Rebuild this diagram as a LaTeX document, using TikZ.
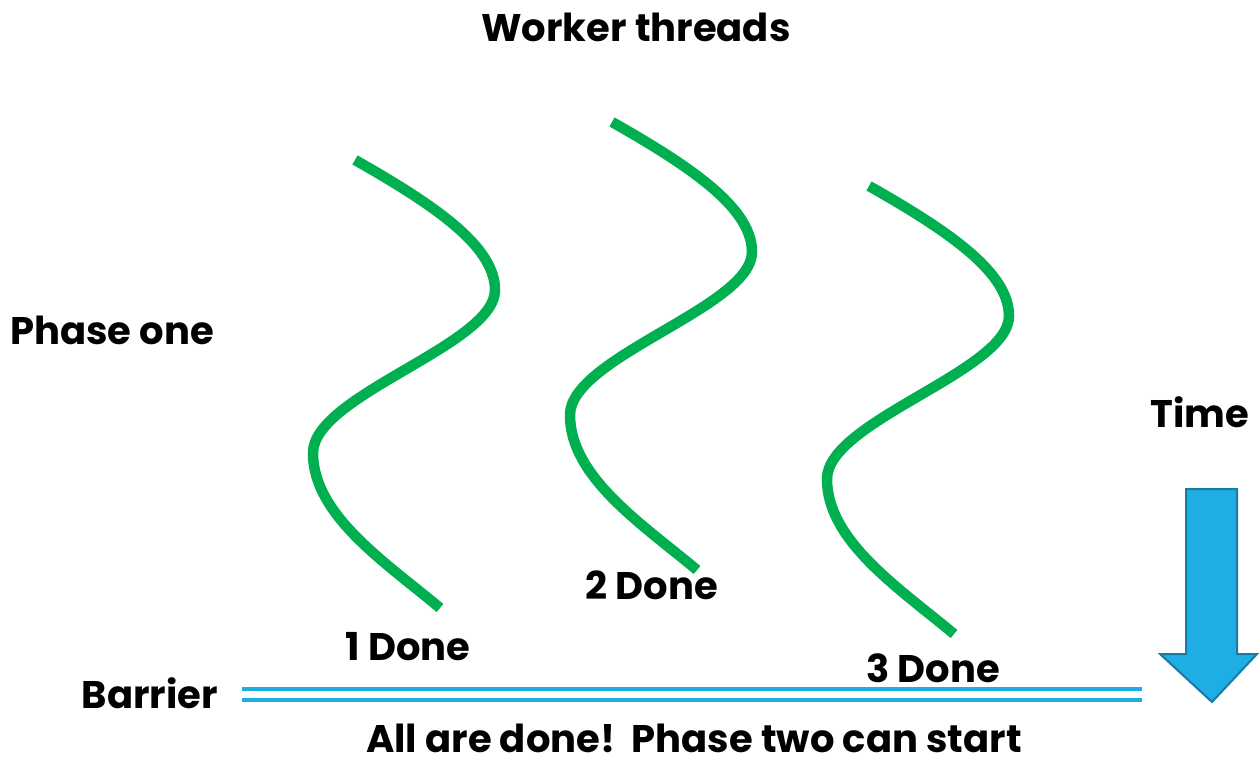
\documentclass[tikz,border=0pt]{standalone}
\usepackage{fontspec}
\setmainfont{Poppins}
\definecolor{thread}{RGB}{0,176,80}
\definecolor{barcol}{RGB}{31,174,227}
\definecolor{arrowedge}{RGB}{24,122,165}
\begin{document}
\begin{tikzpicture}[x=1pt,y=-1pt,
  lbl/.style={font=\fontsize{38.5}{40}\selectfont\bfseries, inner sep=0pt, anchor=center},
  thr/.style={draw=thread, line width=10.5pt},
  bar/.style={draw=barcol, line width=4pt}]
\useasboundingbox (0,0) rectangle (1259,762);
\fill[white] (0,0) rectangle (1259,762);
% threads
\foreach \dx/\dy in {0/0, 257/-38, 514/26}{
  \begin{scope}[shift={(\dx,\dy)}]
  \draw[thr] (355,160) .. controls (440,208) and (495,248) .. (495,290)
     .. controls (495,345) and (313,395) .. (313,453)
     .. controls (313,515) and (385,562) .. (440,608);
  \end{scope}
}
% barrier
\coordinate (b1) at (242,689);
\coordinate (b2) at (1142,689);
\coordinate (b3) at (242,700);
\coordinate (b4) at (1142,700);
\draw[bar] (b1) -- (b2);
\draw[bar] (b3) -- (b4);
% time arrow
\draw[fill=barcol, draw=arrowedge, line width=2pt, line join=miter]
  (1186,489) -- (1237,489) -- (1237,654) -- (1257,654) -- (1212,702) -- (1160,654) -- (1186,654) -- cycle;
% labels
\node[lbl] (wt) at (636,27) {Worker threads};
\node[lbl] (p1) at (112,330) {Phase one};
\node[lbl] (time) at (1200,412) {Time};
\node[lbl] (d2) at (652,585) {2 Done};
\node[lbl] (d1) at (408,647) {1 Done};
\node[lbl] (d3) at (933,668) {3 Done};
\node[lbl] (bar) at (150,693) {Barrier};
\node[lbl, anchor=base, text depth=0pt] (all) at (694,752) {All are done!\ \ Phase two can start};
\end{tikzpicture}
\end{document}
